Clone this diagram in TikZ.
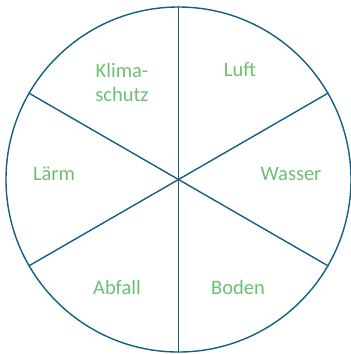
\documentclass[tikz,border=0pt]{standalone}
\usepackage{fontspec}
\setmainfont{Carlito}
\usepackage{xcolor}
\usepackage{tikz}
\usetikzlibrary{positioning}

\definecolor{ringblue}{RGB}{20,95,130}
\definecolor{topicgreen}{RGB}{108,192,112}

\begin{document}
\begin{tikzpicture}[
    x=1pt, y=-1pt,
    ring/.style={draw=ringblue, line width=1.4pt, circle, minimum size=345pt, inner sep=0pt},
    spoke/.style={draw=ringblue, line width=1.4pt},
    topic/.style={text=topicgreen, font=\fontsize{20.5}{24}\selectfont, align=center, inner sep=0pt}
  ]
  \useasboundingbox (0,0) rectangle (351,354);

  % Circle
  \node[ring] (ring) at (178.5,179.5) {};

  % Spokes
  \draw[spoke] (ring.90) -- (ring.270);
  \draw[spoke] (ring.150) -- (ring.330);
  \draw[spoke] (ring.210) -- (ring.30);

  % Topics
  \node[topic] (klima) at (122,82) {Klima-\\schutz};
  \node[topic] (luft) at (240,70) {Luft};
  \node[topic] (wasser) at (291,174) {Wasser};
  \node[topic] (boden) at (238,287) {Boden};
  \node[topic] (abfall) at (117,287) {Abfall};
  \node[topic] (laerm) at (54,174) {Lärm};
\end{tikzpicture}
\end{document}
